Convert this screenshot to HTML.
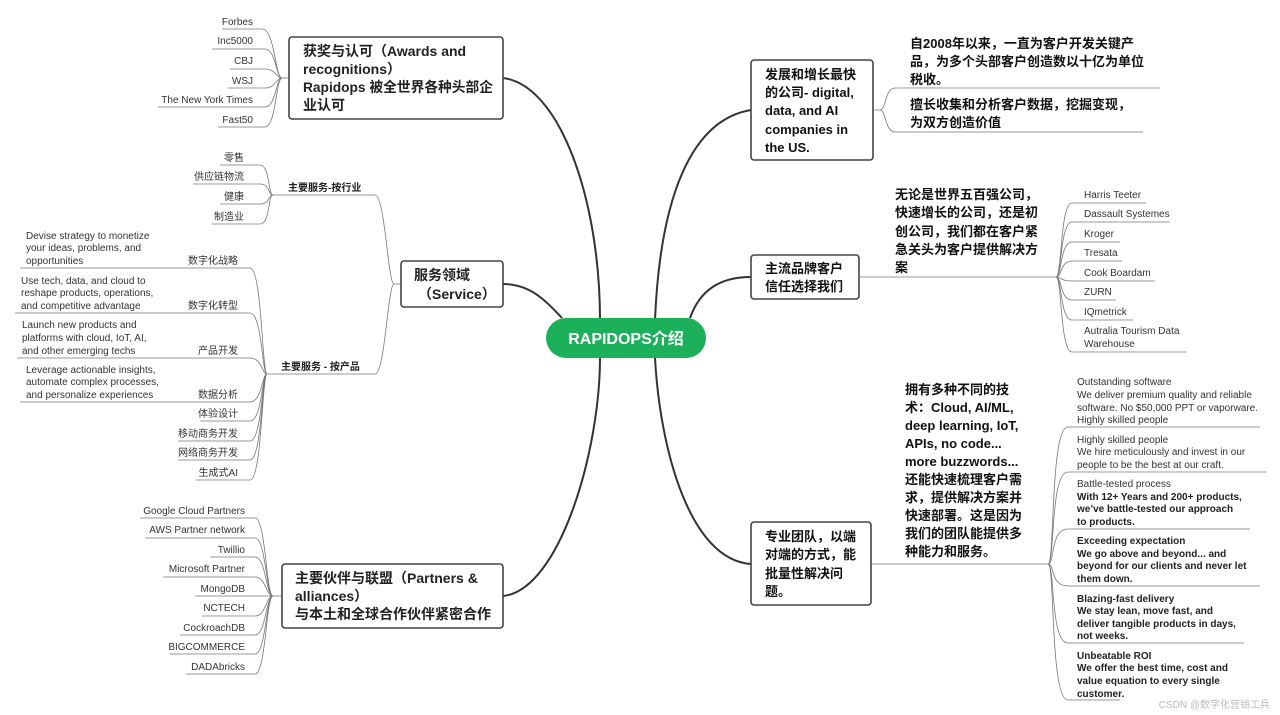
<!DOCTYPE html>
<html><head><meta charset="utf-8"><style>
html,body{margin:0;padding:0;background:#fff;}
svg{display:block;font-family:"Liberation Sans","Noto Sans CJK SC",sans-serif;}
.l{font-size:10px;fill:#333;}
.b{font-size:14px;font-weight:bold;fill:#222;}
.m{font-size:13px;font-weight:bold;fill:#111;}
.s{font-size:10px;fill:#222;font-weight:bold;}
.thin{fill:none;stroke:#777;stroke-width:0.8;}
.thick{fill:none;stroke:#333;stroke-width:2;}
.box{fill:#fff;stroke:#444;stroke-width:1.6;}
</style></head><body>
<svg width="1280" height="715" viewBox="0 0 1280 715">
<path class="thick" d="M503 78 C560 85 600 200 600 320"/>
<path class="thick" d="M503 284 C530 284 545 300 562 318"/>
<path class="thick" d="M503 596 C560 590 600 450 600 358"/>
<path class="thick" d="M751 110 C690 120 660 200 655 320"/>
<path class="thick" d="M751 277 C720 277 700 290 690 318"/>
<path class="thick" d="M751 564 C690 560 660 450 655 358"/>

<rect x="546" y="318" width="160" height="40" rx="20" fill="#1db05a"/>
<text x="626" y="344" text-anchor="middle" font-size="16" font-weight="bold" fill="#fff">RAPIDOPS介绍</text>

<rect class="box" x="289" y="37" width="214" height="82" rx="3"/>
<text class="b"><tspan x="303" y="56">获奖与认可（Awards and</tspan><tspan x="303" y="74">recognitions）</tspan><tspan x="303" y="92" textLength="190" lengthAdjust="spacingAndGlyphs">Rapidops 被全世界各种头部企</tspan><tspan x="303" y="110">业认可</tspan></text>
<g class="thin">
<path d="M282 78 H289"/>
<path d="M222 29 H262 C275 29 275 78 282 78"/>
<path d="M212 49 H265 C276 49 276 78 282 78"/>
<path d="M230 69 H265 C276 69 276 78 282 78"/>
<path d="M228 88 H265 C276 88 276 78 282 78"/>
<path d="M158 107 H265 C276 107 276 78 282 78"/>
<path d="M218 127 H265 C276 127 276 78 282 78"/>
</g>
<g class="l" text-anchor="end">
<text x="253" y="25">Forbes</text><text x="253" y="44">Inc5000</text><text x="253" y="64">CBJ</text>
<text x="253" y="84">WSJ</text><text x="253" y="103">The New York Times</text><text x="253" y="123">Fast50</text>
</g>

<rect class="box" x="401" y="261" width="102" height="46" rx="3"/>
<text class="b"><tspan x="414" y="280">服务领域</tspan><tspan x="418" y="299">（Service）</tspan></text>
<g class="thin">
<path d="M394 284 H401"/>
<path d="M273 195 H375 C385 195 388 284 394 284"/>
<path d="M267 374 H375 C385 374 388 284 394 284"/>
<path d="M220 165 H260 C270 165 268 195 273 195"/>
<path d="M193 184 H260 C270 184 268 195 273 195"/>
<path d="M220 204 H260 C270 204 268 195 273 195"/>
<path d="M212 224 H260 C270 224 268 195 273 195"/>
<path d="M20 268 H250 C262 268 262 374 267 374"/>
<path d="M15 313 H250 C262 313 262 374 267 374"/>
<path d="M17 358 H250 C262 358 262 374 267 374"/>
<path d="M20 402 H250 C262 402 262 374 267 374"/>
<path d="M200 421 H250 C262 421 262 374 267 374"/>
<path d="M178 441 H250 C262 441 262 374 267 374"/>
<path d="M178 460 H250 C262 460 262 374 267 374"/>
<path d="M196 480 H250 C262 480 262 374 267 374"/>
</g>
<text class="s" x="288" y="191">主要服务-按行业</text>
<text class="s" x="281" y="370">主要服务 - 按产品</text>
<g class="l" text-anchor="end">
<text x="244" y="161">零售</text><text x="244" y="180">供应链物流</text><text x="244" y="200">健康</text><text x="244" y="220">制造业</text>
<text x="238" y="264">数字化战略</text><text x="238" y="309">数字化转型</text><text x="238" y="354">产品开发</text>
<text x="238" y="398">数据分析</text><text x="238" y="417">体验设计</text><text x="238" y="437">移动商务开发</text>
<text x="238" y="456">网络商务开发</text><text x="238" y="476">生成式AI</text>
</g>
<g class="l">
<text><tspan x="26" y="239">Devise strategy to monetize</tspan><tspan x="26" y="251">your ideas, problems, and</tspan><tspan x="26" y="264">opportunities</tspan></text>
<text><tspan x="21" y="284">Use tech, data, and cloud to</tspan><tspan x="21" y="296">reshape products, operations,</tspan><tspan x="21" y="309">and competitive advantage</tspan></text>
<text><tspan x="22" y="328">Launch new products and</tspan><tspan x="22" y="341">platforms with cloud, IoT, AI,</tspan><tspan x="22" y="354">and other emerging techs</tspan></text>
<text><tspan x="26" y="373">Leverage actionable insights,</tspan><tspan x="26" y="385">automate complex processes,</tspan><tspan x="26" y="398">and personalize experiences</tspan></text>
</g>

<rect class="box" x="282" y="564" width="221" height="64" rx="3"/>
<text class="b"><tspan x="295" y="583">主要伙伴与联盟（Partners &amp;</tspan><tspan x="295" y="601">alliances）</tspan><tspan x="295" y="619">与本土和全球合作伙伴紧密合作</tspan></text>
<g class="thin">
<path d="M273 596 H282"/>
<path d="M140 518 H255 C266 518 266 596 273 596"/>
<path d="M145 538 H255 C266 538 266 596 273 596"/>
<path d="M210 557 H255 C266 557 266 596 273 596"/>
<path d="M163 577 H255 C266 577 266 596 273 596"/>
<path d="M195 596 H273"/>
<path d="M202 616 H255 C266 616 266 596 273 596"/>
<path d="M180 635 H255 C266 635 266 596 273 596"/>
<path d="M170 654 H255 C266 654 266 596 273 596"/>
<path d="M186 674 H255 C266 674 266 596 273 596"/>
</g>
<g class="l" text-anchor="end">
<text x="245" y="514">Google Cloud Partners</text><text x="245" y="533">AWS Partner network</text><text x="245" y="553">Twillio</text>
<text x="245" y="572">Microsoft Partner</text><text x="245" y="592">MongoDB</text><text x="245" y="611">NCTECH</text>
<text x="245" y="631">CockroachDB</text><text x="245" y="650">BIGCOMMERCE</text><text x="245" y="670">DADAbricks</text>
</g>

<rect class="box" x="751" y="60" width="122" height="100" rx="3"/>
<text class="m"><tspan x="765" y="79">发展和增长最快</tspan><tspan x="765" y="97">的公司- digital,</tspan><tspan x="765" y="115">data, and AI</tspan><tspan x="765" y="134">companies in</tspan><tspan x="765" y="152">the US.</tspan></text>
<g class="thin">
<path d="M873 110 H880 C886 110 885 88 895 88 H1160"/>
<path d="M880 110 C886 110 885 132 895 132 H1143"/>
</g>
<text class="m"><tspan x="910" y="48">自2008年以来，一直为客户开发关键产</tspan><tspan x="910" y="66">品，为多个头部客户创造数以十亿为单位</tspan><tspan x="910" y="84">税收。</tspan><tspan x="910" y="109">擅长收集和分析客户数据，挖掘变现，</tspan><tspan x="910" y="127">为双方创造价值</tspan></text>

<rect class="box" x="751" y="255" width="108" height="44" rx="3"/>
<text class="m"><tspan x="765" y="273">主流品牌客户</tspan><tspan x="765" y="291">信任选择我们</tspan></text>
<g class="thin">
<path d="M859 277 H1056"/>
<path d="M1056 277 C1062 277 1060 203 1072 203 H1146"/>
<path d="M1056 277 C1062 277 1060 222 1072 222 H1170"/>
<path d="M1056 277 C1062 277 1060 242 1072 242 H1120"/>
<path d="M1056 277 C1062 277 1060 261 1072 261 H1122"/>
<path d="M1056 277 C1062 277 1060 281 1072 281 H1155"/>
<path d="M1056 277 C1062 277 1060 300 1072 300 H1116"/>
<path d="M1056 277 C1062 277 1060 320 1072 320 H1133"/>
<path d="M1056 277 C1062 277 1060 352 1072 352 H1186"/>
</g>
<text class="m"><tspan x="895" y="199">无论是世界五百强公司，</tspan><tspan x="895" y="217">快速增长的公司，还是初</tspan><tspan x="895" y="236">创公司，我们都在客户紧</tspan><tspan x="895" y="254">急关头为客户提供解决方</tspan><tspan x="895" y="272">案</tspan></text>
<g class="l">
<text x="1084" y="198">Harris Teeter</text><text x="1084" y="217">Dassault Systemes</text><text x="1084" y="237">Kroger</text>
<text x="1084" y="256">Tresata</text><text x="1084" y="276">Cook Boardam</text><text x="1084" y="295">ZURN</text>
<text x="1084" y="315">IQmetrick</text><text x="1084" y="334">Autralia Tourism Data</text><text x="1084" y="347">Warehouse</text>
</g>

<rect class="box" x="751" y="522" width="120" height="83" rx="3"/>
<text class="m"><tspan x="765" y="541">专业团队，以端</tspan><tspan x="765" y="559">对端的方式，能</tspan><tspan x="765" y="578">批量性解决问</tspan><tspan x="765" y="596">题。</tspan></text>
<g class="thin">
<path d="M871 564 H1048"/>
<path d="M1048 564 C1055 564 1050 427 1068 427 H1260"/>
<path d="M1048 564 C1055 564 1050 472 1068 472 H1266"/>
<path d="M1048 564 C1055 564 1050 529 1068 529 H1250"/>
<path d="M1048 564 C1055 564 1050 586 1068 586 H1260"/>
<path d="M1048 564 C1055 564 1050 643 1068 643 H1244"/>
<path d="M1048 564 C1055 564 1050 700 1068 700 H1120"/>
</g>
<text class="m"><tspan x="905" y="394">拥有多种不同的技</tspan><tspan x="905" y="412">术：Cloud, AI/ML,</tspan><tspan x="905" y="430">deep learning, IoT,</tspan><tspan x="905" y="448">APIs, no code...</tspan><tspan x="905" y="466">more buzzwords...</tspan><tspan x="905" y="484">还能快速梳理客户需</tspan><tspan x="905" y="502">求，提供解决方案并</tspan><tspan x="905" y="520">快速部署。这是因为</tspan><tspan x="905" y="538">我们的团队能提供多</tspan><tspan x="905" y="556">种能力和服务。</tspan></text>
<g class="l">
<text><tspan x="1077" y="385">Outstanding software</tspan><tspan x="1077" y="398">We deliver premium quality and reliable</tspan><tspan x="1077" y="411">software. No $50,000 PPT or vaporware.</tspan><tspan x="1077" y="423">Highly skilled people</tspan></text>
<text><tspan x="1077" y="443">Highly skilled people</tspan><tspan x="1077" y="455">We hire meticulously and invest in our</tspan><tspan x="1077" y="468">people to be the best at our craft.</tspan></text>
<text><tspan x="1077" y="487">Battle-tested process</tspan></text>
</g>
<g class="s">
<text><tspan x="1077" y="500">With 12+ Years and 200+ products,</tspan><tspan x="1077" y="512">we’ve battle-tested our approach</tspan><tspan x="1077" y="525">to products.</tspan></text>
<text><tspan x="1077" y="544">Exceeding expectation</tspan><tspan x="1077" y="557">We go above and beyond... and</tspan><tspan x="1077" y="569">beyond for our clients and never let</tspan><tspan x="1077" y="582">them down.</tspan></text>
<text><tspan x="1077" y="602">Blazing-fast delivery</tspan><tspan x="1077" y="614">We stay lean, move fast, and</tspan><tspan x="1077" y="627">deliver tangible products in days,</tspan><tspan x="1077" y="639">not weeks.</tspan></text>
<text><tspan x="1077" y="659">Unbeatable ROI</tspan><tspan x="1077" y="671">We offer the best time, cost and</tspan><tspan x="1077" y="684">value equation to every single</tspan><tspan x="1077" y="697">customer.</tspan></text>
</g>
<text x="1270" y="708" text-anchor="end" font-size="10" fill="#bbb">CSDN @数字化营销工兵</text>
</svg>
</body></html>
